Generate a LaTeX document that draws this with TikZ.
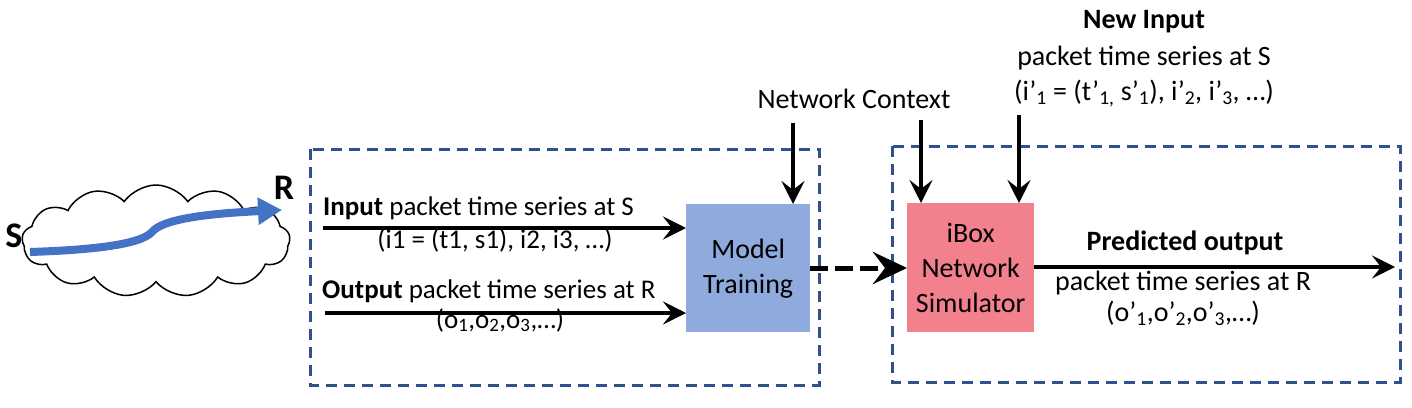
\documentclass[tikz,border=0pt]{standalone}
\usepackage{fontspec}
\setmainfont{Carlito}
\usetikzlibrary{arrows.meta,shapes.symbols}
\definecolor{dashblue}{RGB}{47,82,143}
\definecolor{trainblue}{RGB}{143,170,220}
\definecolor{simpink}{RGB}{242,128,141}
\definecolor{pathblue}{RGB}{68,114,196}
\begin{document}
\begin{tikzpicture}[x=1pt,y=-1pt,
  lbl/.style={font=\fontsize{28}{35}\selectfont, inner sep=0pt},
  blockbox/.style={font=\fontsize{28}{35}\selectfont, align=center, inner sep=0pt, anchor=north west},
  arr/.style={line width=4pt, -{Stealth[length=23pt,width=23pt,inset=9pt]}},
  frame/.style={draw=dashblue, line width=3pt, dash pattern=on 11pt off 7pt},
]
\useasboundingbox (0,0) rectangle (1412,407);

% cloud with path
\node[cloud, cloud puffs=13, cloud puff arc=110, aspect=2.6, draw, line width=1.5pt,
      minimum width=268pt, minimum height=112pt, inner sep=0pt] (cloud) at (156,241) {};
\node[lbl, font=\fontsize{36}{40}\selectfont\bfseries, anchor=base] (S) at (14,247) {S};
\node[lbl, font=\fontsize{36}{40}\selectfont\bfseries, anchor=base] (R) at (284,199) {R};
\coordinate (p0) at (30,252);
\coordinate (p1) at (282,210);
\draw[pathblue, line width=8pt, -{Triangle[length=24pt,width=26pt]}]
  (p0) .. controls (90,250) and (140,245) .. (152,232)
       .. controls (162,220) and (200,214) .. (p1);

% frames
\draw[frame] (310,149) rectangle (819,385);
\draw[frame] (892,146) rectangle (1400,382);

% blocks
\node[blockbox, fill=trainblue, minimum width=124pt, minimum height=128pt] (train) at (686,204) {Model\\Training};
\node[blockbox, fill=simpink, minimum width=127pt, minimum height=129pt] (sim) at (907,203) {iBox\\Network\\Simulator};

% left inputs
\coordinate (in1) at (323,228);
\coordinate (in2) at (325,313);
\draw[arr] (in1) -- (in1 -| train.west);
\draw[arr] (in2) -- (in2 -| train.west);
\node[lbl, anchor=base west, font=\fontsize{27}{35}\selectfont] (intxt) at (323,215) {\textbf{Input} packet time series at S};
\node[lbl, anchor=base, font=\fontsize{27}{35}\selectfont] (insub) at (495,248) {(i1 = (t1, s1), i2, i3, …)};
\node[lbl, anchor=base west, font=\fontsize{27}{35}\selectfont] (outtxt) at (322,298) {\textbf{Output} packet time series at R};
\node[lbl, anchor=base, font=\fontsize{27}{35}\selectfont] (outsub) at (500,328) {(o\textsubscript{1},o\textsubscript{2},o\textsubscript{3},…)};

% network context
\node[lbl, anchor=base] (nc) at (854,108) {Network Context};
\coordinate (nc1) at (793,123);
\coordinate (nc2) at (921,120);
\draw[arr] (nc1) -- (nc1 |- train.north);
\draw[arr] (nc2) -- (nc2 |- sim.north);

% new input
\node[lbl, anchor=base, font=\fontsize{28}{35}\selectfont\bfseries] (ni) at (1144,28) {New Input};
\node[lbl, anchor=base] (ni2) at (1144,65) {packet time series at S};
\node[lbl, anchor=base] (ni3) at (1144,100) {(i’\textsubscript{1} = (t’\textsubscript{1,} s’\textsubscript{1}), i’\textsubscript{2}, i’\textsubscript{3}, …)};
\coordinate (nin) at (1019,115);
\draw[arr] (nin) -- (nin |- sim.north);

% dashed transfer
\draw[line width=5pt, dash pattern=on 18pt off 7pt, -{Stealth[length=34pt,width=32pt,inset=12pt]}]
  (train.east |- 0,268) -- (sim.west |- 0,268);

% predicted output
\coordinate (pout) at (1395,267);
\draw[arr] (sim.east |- pout) -- (pout);
\node[lbl, anchor=base, font=\fontsize{28}{35}\selectfont\bfseries] (po1) at (1185,250) {Predicted output};
\node[lbl, anchor=base] (po2) at (1183,290) {packet time series at R};
\node[lbl, anchor=base] (po3) at (1183,321) {(o’\textsubscript{1},o’\textsubscript{2},o’\textsubscript{3},…)};
\end{tikzpicture}
\end{document}
